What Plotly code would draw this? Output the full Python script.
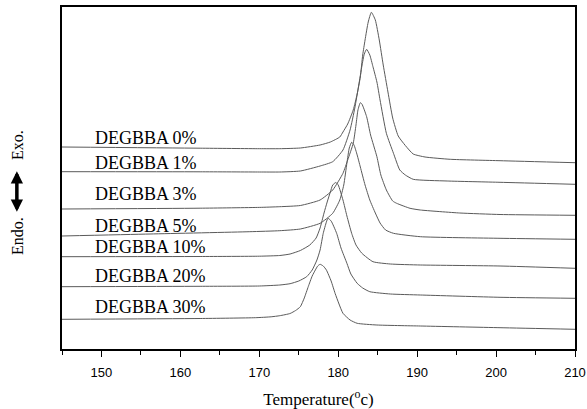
import plotly.graph_objects as go

# Temperature (°C) and heat flow (a.u.)
t_0 = [145.0, 162.5, 170.0, 172.6, 175.2, 177.7, 179.0, 180.2, 180.6, 181.2, 181.9, 182.4, 182.8, 183.1, 183.4,
       183.8, 184.2, 184.7, 185.2, 185.7, 186.3, 186.9, 187.6, 188.5, 189.5, 191.0, 194.2, 200.5, 210.0]
h_0 = [202, 200.8, 200.3, 200.3, 201, 204, 207, 212, 217, 225, 239, 255, 272, 294, 309,
       327, 336.7, 329, 309, 284, 257, 231, 213, 203.5, 195, 192, 189.7, 188.3, 186.3]

t_1 = [145.0, 162.5, 170.0, 172.6, 175.2, 177.7, 179.3, 180.6, 181.5, 182.1, 182.6, 183.0, 183.3, 183.6,
       184.0, 184.4, 184.9, 185.3, 186.1, 187.0, 187.8, 188.5, 189.5, 193.8, 200.5, 210.0]
h_1 = [177.3, 177.2, 177.0, 177.0, 178, 183, 187.3, 199, 219, 241, 264, 283, 295, 299.7,
       294, 282.3, 267, 249, 215.7, 195.7, 179, 174, 169.7, 168, 166.7, 164.7]

t_3 = [145.0, 162.5, 170.0, 172.6, 175.2, 177.7, 179.3, 180.6, 181.2, 181.9, 182.25, 182.5, 182.8, 183.0,
       183.6, 184.1, 184.9, 185.4, 186.1, 186.9, 187.4, 189.1, 190.4, 195.4, 200.5, 210.0]
h_3 = [140, 140.8, 141.6, 142.3, 143.5, 149, 159, 175.7, 189, 205.7, 224, 239, 246.3, 245,
       232.3, 214, 192.3, 174, 159, 148, 145.7, 140.7, 139, 136, 134.5, 133.7]

t_5 = [145.0, 156.15, 168.8, 172.6, 175.2, 177.7, 179.3, 180.2, 180.7, 181.1, 181.4, 181.7, 182.0,
       182.4, 182.8, 183.4, 184.0, 184.7, 185.3, 186.0, 187.0, 190.4, 200.5, 210.0]
h_5 = [113, 115, 117.3, 118.3, 120, 125.7, 135.7, 149, 164, 186, 201, 206.7, 204,
       194, 182, 164, 149, 136, 126, 119, 115.7, 112.3, 110.7, 109.7]

t_10 = [145.0, 162.5, 170.0, 172.6, 173.9, 175.2, 176.4, 177.2, 177.7, 178.2, 178.6, 179.0, 179.3, 179.7,
        180.0, 180.6, 181.1, 181.7, 182.25, 183.0, 184.4, 186.6, 190.4, 200.5, 210.0]
h_10 = [92.3, 92.5, 92.8, 93.5, 95, 98.5, 104, 111, 121, 136, 147, 157, 164, 166.5,
        164, 149, 133, 115.7, 104, 95.7, 87.3, 85, 84, 83, 80.7]

t_20 = [145.0, 162.5, 170.0, 172.6, 173.9, 175.0, 176.0, 176.7, 177.3, 177.7, 178.1, 178.5, 178.7, 179.1, 179.8,
        180.35, 181.1, 181.6, 182.4, 183.1, 184.0, 186.6, 190.4, 200.5, 210.0]
h_20 = [62.3, 62.7, 63.0, 64.0, 65.3, 68.0, 72.3, 79, 89, 99, 115.7, 127, 130.7, 128, 115.7,
        101, 85.7, 75, 65.7, 61, 57.3, 55, 54, 51.7, 50.7]

t_30 = [145.0, 162.5, 169.5, 171.5, 172.6, 173.9, 174.6, 175.2, 175.7, 176.2, 176.7, 177.1, 177.4, 177.7, 178.1,
        178.5, 179.1, 179.6, 180.1, 180.6, 181.5, 182.4, 184.9, 190.4, 200.5, 210.0]
h_30 = [29.7, 30.5, 31.3, 32.2, 33.3, 35.5, 38.5, 42.3, 51, 62.3, 73, 79, 83, 84.7, 83,
        79, 68, 55.7, 45, 35.7, 29, 25.7, 24, 23, 21.3, 19.7]

series_names = ["DEGBBA 0%", "DEGBBA 1%", "DEGBBA 3%", "DEGBBA 5%",
                "DEGBBA 10%", "DEGBBA 20%", "DEGBBA 30%"]
series_t = [t_0, t_1, t_3, t_5, t_10, t_20, t_30]
series_h = [h_0, h_1, h_3, h_5, h_10, h_20, h_30]

# label anchor (temperature, heat flow)
label_t = [148.9] * 7
label_h = [210.7, 186.3, 155.0, 123.0, 102.3, 73.0, 41.7]

fig = go.Figure()
for name, t, h in zip(series_names, series_t, series_h):
    fig.add_trace(go.Scatter(x=t, y=h, mode="lines", name=name,
                             line=dict(color="#5a5a5a", width=1, shape="spline", smoothing=0.5),
                             showlegend=False, hoverinfo="skip"))

for name, lt, lh in zip(series_names, label_t, label_h):
    fig.add_annotation(x=lt, y=lh, text=name, showarrow=False, xanchor="left", yanchor="middle",
                       font=dict(family="Liberation Serif", size=18, color="black"))

# y-axis label: Endo. <-> Exo.
fig.add_annotation(xref="paper", yref="paper", x=-0.088, y=0.596, text="Exo.", textangle=-90,
                   xanchor="center", yanchor="middle",
                   showarrow=False, font=dict(family="Liberation Serif", size=16, color="black"))
fig.add_annotation(xref="paper", yref="paper", x=-0.088, y=0.33, text="Endo.", textangle=-90,
                   xanchor="center", yanchor="middle",
                   showarrow=False, font=dict(family="Liberation Serif", size=16, color="black"))
fig.add_annotation(xref="paper", yref="paper", x=-0.088, y=0.52, ax=0, ay=42, text="",
                   showarrow=True, arrowside="end+start", arrowhead=2, arrowsize=0.7,
                   arrowwidth=3.5, arrowcolor="black")

fig.update_layout(
    width=587, height=409,
    margin=dict(l=62, r=12, t=7, b=60, autoexpand=False),
    paper_bgcolor="white", plot_bgcolor="white",
    xaxis=dict(range=[145, 210], dtick=10, tick0=150, ticks="outside", ticklen=6, tickwidth=1,
               tickcolor="black", showgrid=False, zeroline=False, automargin=False,
               showline=True, linecolor="black", linewidth=1.5, mirror=True,
               ticklabelstandoff=5,
               minor=dict(dtick=5, ticks="outside", ticklen=4, tickcolor="black", showgrid=False),
               tickfont=dict(family="Liberation Sans", size=13, color="black"),
               title=dict(text="Temperature(<sup>o</sup>c)", standoff=14,
                          font=dict(family="Liberation Serif", size=17, color="black"))),
    yaxis=dict(range=[0, 342], showticklabels=False, ticks="", showgrid=False, zeroline=False,
               automargin=False,
               showline=True, linecolor="black", linewidth=1.5, mirror=True),
)

fig.write_html("out.html", config={"displayModeBar": False},
               post_script="document.body.style.margin='0';")
